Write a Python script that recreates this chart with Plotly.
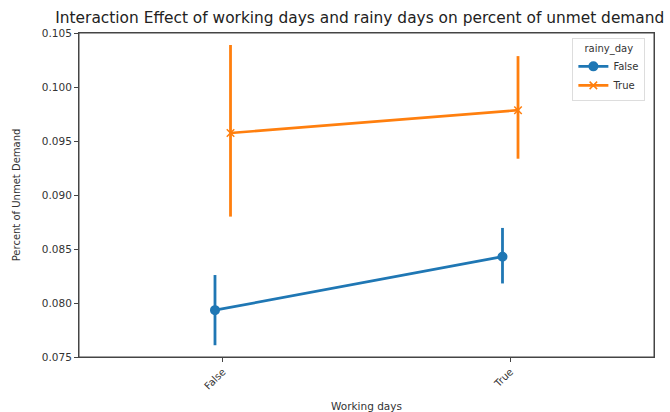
import plotly.graph_objects as go

categories = ["False", "True"]
rainy_false_mean = [0.07934, 0.08429]
rainy_false_lo = [0.07609, 0.08181]
rainy_false_hi = [0.08259, 0.08695]
rainy_true_mean = [0.09574, 0.09785]
rainy_true_lo = [0.08800, 0.09336]
rainy_true_hi = [0.10389, 0.10286]
yticks = [0.075, 0.080, 0.085, 0.090, 0.095, 0.100, 0.105]

dodge = 0.027
xpos = list(range(len(categories)))

blue = "#1f77b4"
orange = "#ff7f0e"

fig = go.Figure()

def add_series(name, mean, lo, hi, color, symbol, offset, msize):
    xs = [x + offset for x in xpos]
    fig.add_trace(go.Scatter(
        x=xs, y=mean, mode="lines+markers", name=name,
        line=dict(color=color, width=2.7),
        marker=dict(color=color, symbol=symbol, size=msize,
                    line=dict(color=color, width=1.5)),
        error_y=dict(type="data", symmetric=False,
                     array=[h - m for h, m in zip(hi, mean)],
                     arrayminus=[m - l for m, l in zip(mean, lo)],
                     color=color, thickness=2.8, width=0),
    ))

add_series("False", rainy_false_mean, rainy_false_lo, rainy_false_hi, blue, "circle", -dodge, 8.5)
add_series("True", rainy_true_mean, rainy_true_lo, rainy_true_hi, orange, "x-thin", dodge, 7.5)

fig.update_layout(
    width=670, height=412,
    margin=dict(l=79, r=16, t=33, b=55, autoexpand=False),
    paper_bgcolor="white", plot_bgcolor="white",
    font=dict(family="DejaVu Sans", color="#333333", size=10),
    title=dict(text="Interaction Effect of working days and rainy days on percent of unmet demand",
               x=0.537, xanchor="center", y=0.958, yanchor="middle",
               font=dict(size=15.4, color="#222222")),
    showlegend=True,
    legend=dict(
        title=dict(text="rainy_day", side="top center", font=dict(size=10)),
        x=0.985, xanchor="right", y=0.985, yanchor="top",
        bgcolor="rgba(255,255,255,0.8)", bordercolor="#dddddd", borderwidth=1,
        font=dict(size=10), itemwidth=30,
    ),
    shapes=[dict(type="rect", xref="paper", yref="paper", x0=0, x1=1, y0=0, y1=1,
                 line=dict(color="#444444", width=1), fillcolor="rgba(0,0,0,0)", layer="above")],
)

fig.update_xaxes(
    range=[-0.5, 1.5], tickvals=xpos, ticktext=categories, tickangle=-45,
    showgrid=False, zeroline=False, showline=True, linecolor="#444444", linewidth=1,
    mirror=True, ticks="outside", ticklen=4, tickcolor="#444444", automargin=False,
    title=dict(text="Working days", standoff=12, font=dict(size=10.5)),
)
fig.update_yaxes(
    range=[0.075, 0.105], tickvals=yticks, tickformat=".3f",
    showgrid=False, zeroline=False, showline=True, linecolor="#444444", linewidth=1,
    mirror=True, ticks="outside", ticklen=4, tickcolor="#444444", automargin=False,
    tickfont=dict(size=10.5),
    title=dict(text="Percent of Unmet Demand", standoff=19, font=dict(size=10)),
)

fig.write_html("out.html", config={"displayModeBar": False},
               post_script="document.body.style.margin='0';")
